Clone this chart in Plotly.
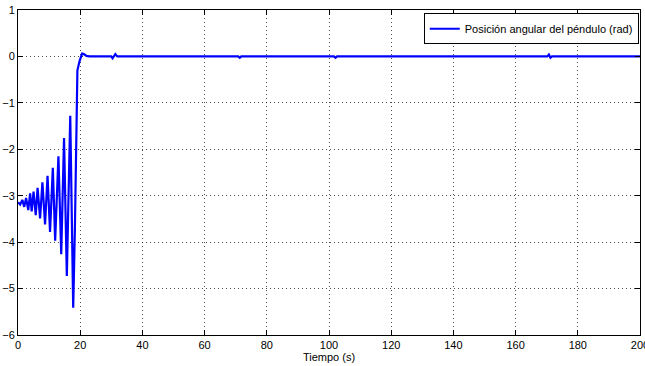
import plotly.graph_objects as go

# Time (s) and pendulum angular position (rad)
tiempo = [0.0, 0.7, 1.4, 2.0, 2.6, 3.3, 3.9, 4.4, 5.0, 5.7, 6.3, 7.1, 7.85, 8.7,
          9.5, 10.3, 11.2, 11.95, 13.0, 13.9, 14.8, 15.7, 16.8, 17.75, 18.3, 18.9, 19.1,
          19.8, 20.6, 21.2, 22.0, 23.0, 30.0, 30.4, 31.3, 31.9, 32.4,
          70.8, 71.3, 71.8, 101.6, 102.1, 102.6, 170.2, 170.7, 171.2, 171.7, 200.0]
angulo = [-3.14, -3.19, -3.09, -3.24, -3.05, -3.31, -2.95, -3.34, -2.91, -3.42, -2.83,
          -3.49, -2.71, -3.62, -2.57, -3.78, -2.40, -3.97, -2.15, -4.26, -1.76, -4.73,
          -1.28, -5.41, -3.70, -0.40, -0.30, -0.10, 0.06, 0.05, 0.01, 0.0,
          0.0, -0.04, 0.05, 0.0, 0.0,
          0.0, -0.03, 0.0, 0.0, -0.03, 0.0, 0.0, 0.04, -0.03, 0.0, 0.0]

serie = "Posición angular del péndulo (rad)"
x_titulo = "Tiempo (s)"
x_ticks = list(range(0, 201, 20))
y_ticks = list(range(-6, 2, 1))

fuente = "Liberation Sans, Arial, sans-serif"

fig = go.Figure()
fig.add_trace(go.Scatter(x=tiempo, y=angulo, mode="lines", name=serie,
                         line=dict(color="#0000FF", width=2.2)))

eje = dict(showline=True, linecolor="black", linewidth=1, mirror="ticks",
           ticks="inside", ticklen=5, tickcolor="black", tickwidth=1,
           showgrid=True, gridcolor="rgba(0,0,0,0.7)", griddash="1px,3px", gridwidth=1,
           zeroline=False, automargin=False, ticklabeloverflow="allow",
           tickfont=dict(family=fuente, size=11, color="black"))

fig.update_layout(
    width=645, height=366,
    margin=dict(l=18, r=5, t=10, b=31),
    paper_bgcolor="white", plot_bgcolor="white",
    font=dict(family=fuente, size=11, color="black"),
    showlegend=True,
    legend=dict(x=0.998, y=0.99, xanchor="right", yanchor="top",
                bgcolor="white", bordercolor="black", borderwidth=1,
                font=dict(family=fuente, size=11, color="black"),
                itemwidth=30, tracegroupgap=0),
    xaxis=dict(range=[0, 200], tickvals=x_ticks,
               title=dict(text=x_titulo, standoff=2, font=dict(family=fuente, size=11)), **eje),
    yaxis=dict(range=[-6, 1], tickvals=y_ticks, **eje),
)

fig.write_html("out.html", config={"displayModeBar": False},
               post_script="document.body.style.margin='0';document.body.style.overflow='hidden';")
